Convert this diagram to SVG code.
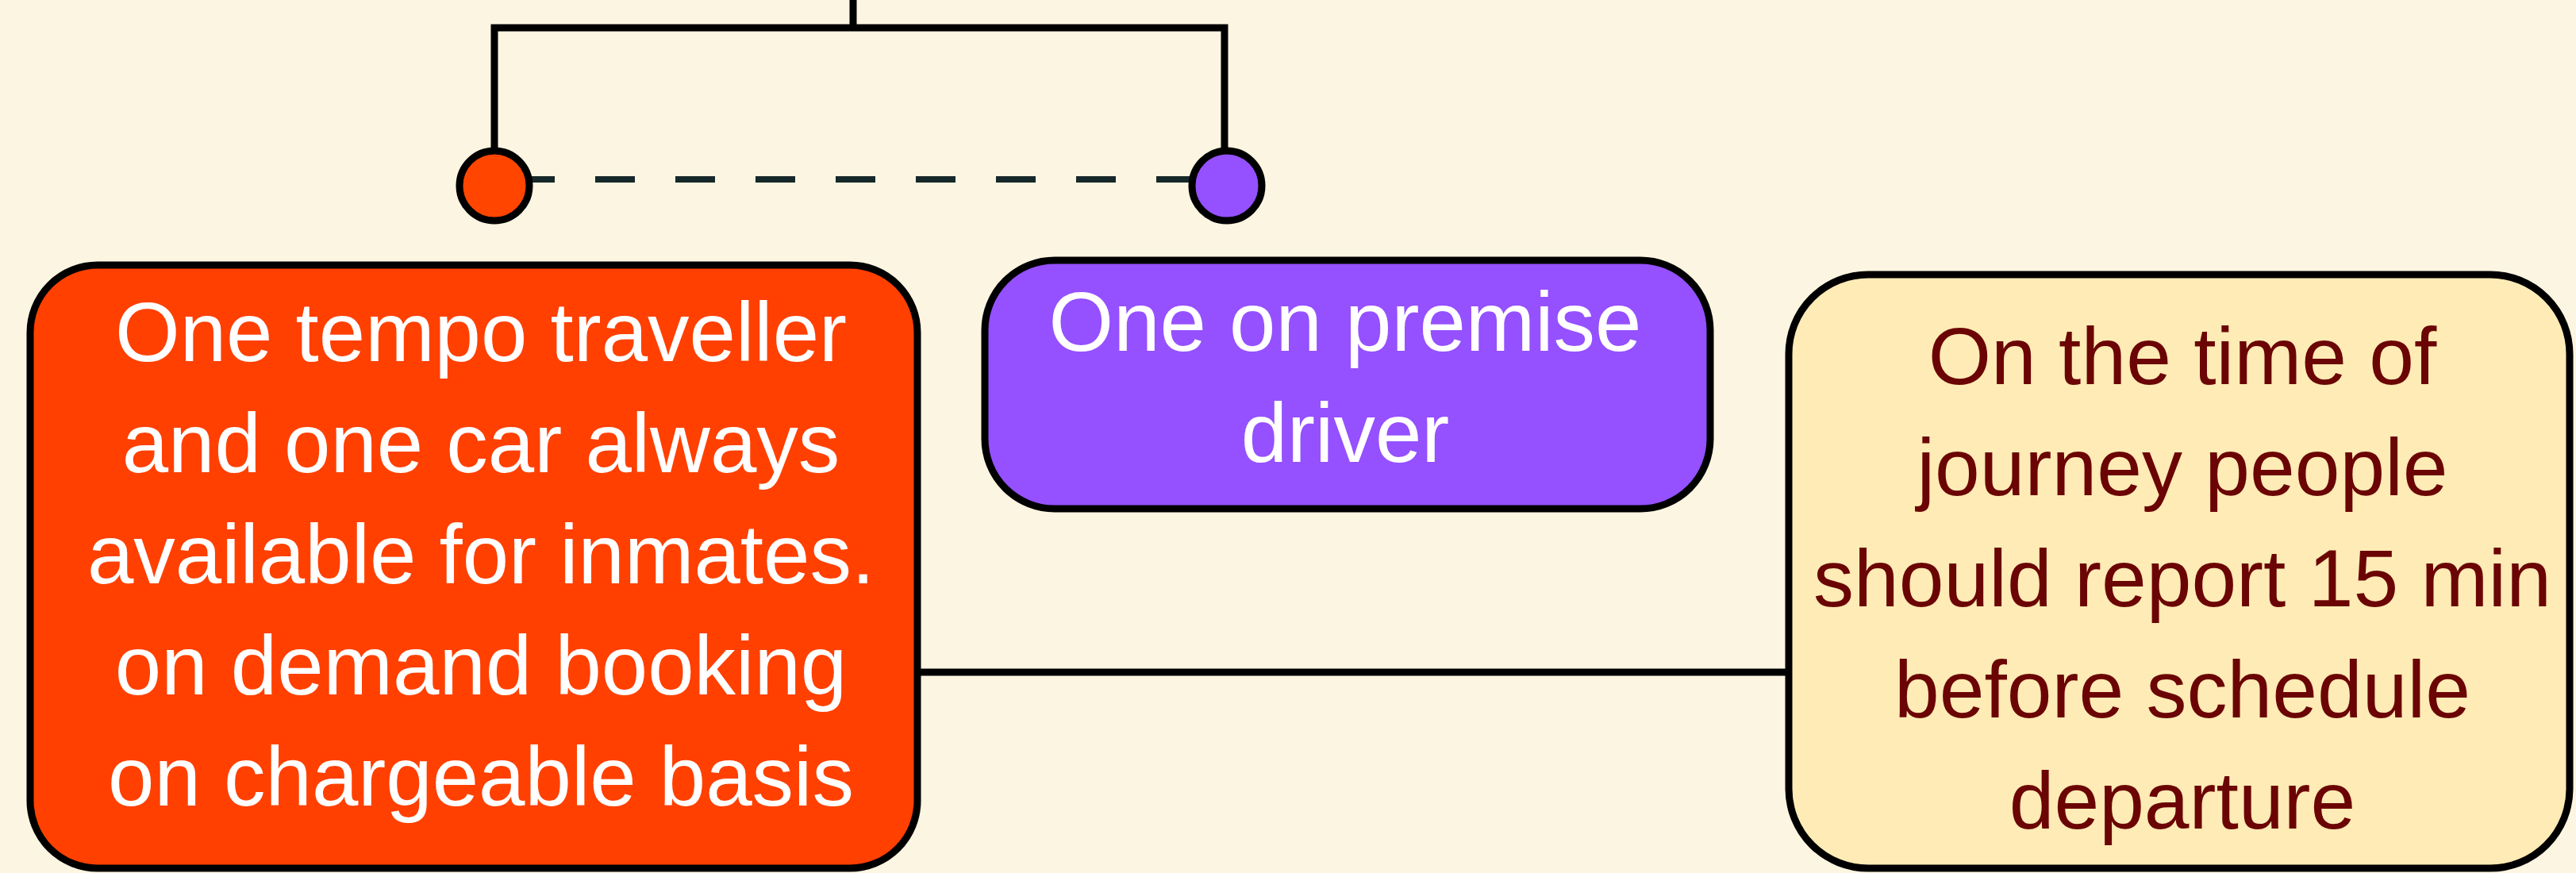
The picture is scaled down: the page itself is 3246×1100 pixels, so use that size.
<svg xmlns="http://www.w3.org/2000/svg" width="3246" height="1100" viewBox="0 0 3246 1100">
<style>
.box{stroke:#000;stroke-width:9}
.ln{fill:none;stroke:#000;stroke-width:9;stroke-linejoin:miter}
.t{font-family:"Liberation Sans",Arial,sans-serif;text-anchor:middle}
.w{fill:#fff;font-size:105px}
.d{fill:#6b0505;font-size:102px}
</style>
<rect width="3246" height="1100" fill="#fcf5e1"/>
<g id="connectors">
<path class="ln" d="M1075 0V35M623 190V35H1543V190M1160 847H2254"/>
<line x1="649" y1="226" x2="1500" y2="226" stroke="#16282a" stroke-width="8" stroke-dasharray="50 51"/>
</g>
<g id="dot-red"><circle cx="623" cy="234" r="44" fill="#ff4500" class="box"/></g>
<g id="dot-purple"><circle cx="1546" cy="234" r="44" fill="#9550ff" class="box"/></g>
<g id="node-vehicles">
<rect x="38" y="334" width="1118" height="760" rx="85" fill="#ff4000" class="box"/>
<text class="t w"><tspan x="606" y="455">One tempo traveller</tspan><tspan x="606" y="595">and one car always</tspan><tspan x="606" y="735">available for inmates.</tspan><tspan x="606" y="875">on demand booking</tspan><tspan x="606" y="1015">on chargeable basis</tspan></text>
</g>
<g id="node-driver">
<rect x="1241" y="328" width="914" height="313" rx="88" fill="#9550ff" class="box"/>
<text class="t w"><tspan x="1695" y="442">One on premise</tspan><tspan x="1695" y="582">driver</tspan></text>
</g>
<g id="node-report">
<rect x="2254" y="346" width="984" height="748" rx="100" fill="#ffebb5" class="box"/>
<text class="t d"><tspan x="2750" y="484">On the time of</tspan><tspan x="2750" y="624">journey people</tspan><tspan x="2750" y="764">should report 15 min</tspan><tspan x="2750" y="904">before schedule</tspan><tspan x="2750" y="1044">departure</tspan></text>
</g>
</svg>
